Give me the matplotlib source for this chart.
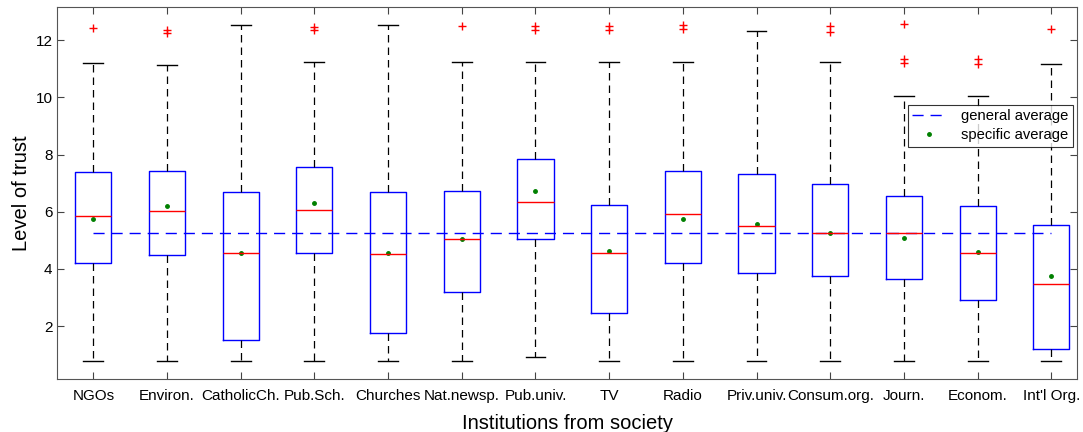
# boxplot of trust levels per institution
import numpy as np
from matplotlib import pyplot as plt
import matplotlib

matplotlib.rcParams.update({'font.family': ['Liberation Sans', 'DejaVu Sans'], 'font.size': 11})

labels = ['NGOs', 'Environ.', 'CatholicCh.', 'Pub.Sch.', 'Churches', 'Nat.newsp.', 'Pub.univ.',
          'TV', 'Radio', 'Priv.univ.', 'Consum.org.', 'Journ.', 'Econom.', "Int'l Org."]
q1     = [4.20, 4.47, 1.50, 4.56, 1.75, 3.18, 5.05, 2.46, 4.22, 3.84, 3.75, 3.63, 2.93, 1.19]
median = [5.86, 6.04, 4.54, 6.07, 4.51, 5.05, 6.33, 4.54, 5.91, 5.50, 5.27, 5.27, 4.56, 3.48]
q3     = [7.40, 7.43, 6.70, 7.57, 6.70, 6.72, 7.84, 6.25, 7.43, 7.32, 6.97, 6.54, 6.20, 5.53]
whislo = [0.77, 0.77, 0.77, 0.77, 0.77, 0.77, 0.92, 0.77, 0.77, 0.77, 0.77, 0.77, 0.77, 0.77]
whishi = [11.20, 11.13, 12.53, 11.25, 12.53, 11.25, 11.23, 11.23, 11.25, 12.31, 11.23, 10.06, 10.03, 11.17]
means  = [5.75, 6.19, 4.56, 6.32, 4.56, 5.06, 6.71, 4.61, 5.75, 5.56, 5.27, 5.08, 4.58, 3.75]
fliers = [[12.43], [12.37, 12.25], [], [12.47, 12.37], [], [12.51], [12.48, 12.36],
          [12.48, 12.36], [12.53, 12.40], [], [12.49, 12.30], [12.55, 11.33, 11.20],
          [11.33, 11.16], [12.38]]
general_avg = 5.27

fig = plt.figure(figsize=(10.83, 4.32), dpi=100)
ax = fig.add_axes([0.0529, 0.1227, 0.9416, 0.8618])

stats = []
for i in range(len(labels)):
    stats.append({'med': median[i], 'q1': q1[i], 'q3': q3[i], 'whislo': whislo[i],
                  'whishi': whishi[i], 'fliers': fliers[i], 'label': labels[i]})

pos = np.arange(1, len(labels) + 1)
ax.bxp(stats, positions=pos, widths=0.49, capwidths=0.27, showfliers=True,
       boxprops=dict(color='blue', linewidth=1),
       medianprops=dict(color='red', linewidth=1),
       whiskerprops=dict(color='black', linewidth=0.9, linestyle=(0, (6, 4))),
       capprops=dict(color='black', linewidth=1),
       flierprops=dict(marker='+', markeredgecolor='red', markersize=5.5, linestyle='none'))

l1, = ax.plot([pos[0], pos[-1]], [general_avg, general_avg], color='blue',
              linestyle=(0, (8, 5)), linewidth=1, label='general average')
l2, = ax.plot(pos, means, linestyle='none', marker='.', color='green', markersize=5,
              label='specific average')

ax.set_xlim(0.51, 14.35)
ax.set_ylim(0.15, 13.17)
ax.set_yticks([2, 4, 6, 8, 10, 12])
ax.set_xticks(pos)
ax.set_xticklabels(labels)
ax.tick_params(direction='in', length=5, color='#444444', top=True, right=True, labelsize=11)
ax.tick_params(axis='x', pad=7)
for s in ax.spines.values():
    s.set_color('#555555')
ax.set_ylabel('Level of trust', fontsize=14.5, labelpad=3)
ax.set_xlabel('Institutions from society', fontsize=14.5, labelpad=8)

leg = ax.legend(handles=[l1, l2], loc='upper right', bbox_to_anchor=(1.003, 0.757),
                fancybox=False, edgecolor='black', fontsize=10.6, handlelength=2.3,
                borderpad=0.3, labelspacing=0.35, handletextpad=1.0)
leg.get_frame().set_linewidth(0.8)

plt.savefig('out.png', dpi=100)
